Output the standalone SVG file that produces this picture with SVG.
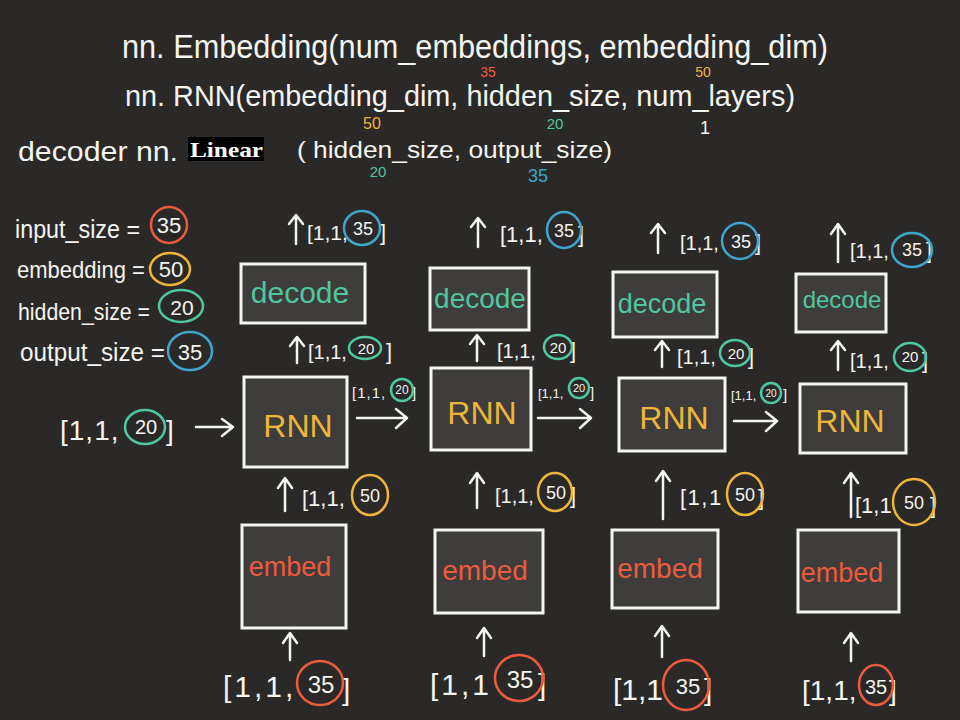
<svg xmlns="http://www.w3.org/2000/svg" width="960" height="720" viewBox="0 0 960 720">
<style>
.hw{font-family:"Liberation Sans",Arial,sans-serif;}
.w{fill:#f4f4f0}.r{fill:#ec5b3e}.y{fill:#eeb53b}.g{fill:#4fc7a0}.b{fill:#3fa6c9}
.box{fill:#3f3d3b;stroke:#f4f4f0;stroke-width:3}
.ring{fill:none;stroke-width:2.5}
.rr{stroke:#ec5b3e}.ry{stroke:#eeb53b}.rg{stroke:#4fc7a0}.rb{stroke:#3fa6c9}
.arr{fill:none;stroke:#f4f4f0;stroke-width:2.5;stroke-linecap:round;stroke-linejoin:round}
.lab{font-family:"Liberation Sans",Arial,sans-serif;fill:#f4f4f0}
.num{text-anchor:middle}
.nt{font-family:"Liberation Sans",Arial,sans-serif;text-anchor:middle}
</style>
<rect width="960" height="720" fill="#2b2927"/>

<g id="header">
<text class="hw w" x="122" y="58" font-size="34" textLength="706" lengthAdjust="spacingAndGlyphs">nn. Embedding(num_embeddings, embedding_dim)</text>
<text class="nt r" x="488" y="77" font-size="14">35</text>
<text class="nt y" x="703" y="77" font-size="14">50</text>
<text class="hw w" x="125" y="106" font-size="29" textLength="670" lengthAdjust="spacingAndGlyphs">nn. RNN(embedding_dim, hidden_size, num_layers)</text>
<text class="nt y" x="372" y="129" font-size="16">50</text>
<text class="nt g" x="555" y="129" font-size="15">20</text>
<text class="nt w" x="705" y="134" font-size="18">1</text>
<text class="hw w" x="18" y="161" font-size="28" textLength="160" lengthAdjust="spacingAndGlyphs">decoder nn.</text>
<rect x="188" y="137" width="76" height="24" fill="#000"/>
<text x="190" y="157" font-family="'Liberation Serif','Times New Roman',serif" font-weight="bold" font-size="22" fill="#ffffff" textLength="73" lengthAdjust="spacingAndGlyphs">Linear</text>
<text class="hw w" x="297" y="158" font-size="24" textLength="315" lengthAdjust="spacingAndGlyphs">( hidden_size, output_size)</text>
<text class="nt g" x="378" y="177" font-size="15">20</text>
<text class="nt b" x="538" y="182" font-size="18">35</text>
</g>

<g id="legend">
<text class="hw w" x="15" y="238" font-size="25" textLength="125" lengthAdjust="spacingAndGlyphs">input_size =</text>
<text class="nt w" x="169" y="233" font-size="22">35</text>
<ellipse class="ring rr" cx="169" cy="225" rx="18" ry="18"/>
<text class="hw w" x="17" y="278" font-size="24" textLength="128" lengthAdjust="spacingAndGlyphs">embedding =</text>
<text class="nt w" x="171" y="277" font-size="22">50</text>
<ellipse class="ring ry" cx="170" cy="269" rx="20" ry="16"/>
<text class="hw w" x="18" y="320" font-size="24" textLength="132" lengthAdjust="spacingAndGlyphs">hidden_size =</text>
<text class="nt w" x="182" y="315" font-size="21">20</text>
<ellipse class="ring rg" cx="181" cy="306" rx="22" ry="16"/>
<text class="hw w" x="20" y="361" font-size="25" textLength="145" lengthAdjust="spacingAndGlyphs">output_size =</text>
<text class="nt w" x="190" y="360" font-size="22">35</text>
<ellipse class="ring rb" cx="190" cy="351" rx="22" ry="19"/>
</g>

<g id="decode1"><rect class="box" x="241" y="264" width="124" height="59"/><text class="nt g" x="300" y="303" font-size="30">decode</text></g>
<g id="decode2"><rect class="box" x="430" y="268" width="99" height="62"/><text class="nt g" x="480" y="308" font-size="28">decode</text></g>
<g id="decode3"><rect class="box" x="613" y="272" width="104" height="65"/><text class="nt g" x="662" y="313" font-size="27">decode</text></g>
<g id="decode4"><rect class="box" x="796" y="274" width="90" height="58"/><text class="nt g" x="842" y="308" font-size="24">decode</text></g>

<g id="rnn1"><rect class="box" x="244" y="377" width="103" height="90"/><text class="nt y" x="298" y="437" font-size="32">RNN</text></g>
<g id="rnn2"><rect class="box" x="431" y="368" width="100" height="82"/><text class="nt y" x="482" y="424" font-size="32">RNN</text></g>
<g id="rnn3"><rect class="box" x="619" y="378" width="106" height="73"/><text class="nt y" x="674" y="429" font-size="32">RNN</text></g>
<g id="rnn4"><rect class="box" x="800" y="384" width="106" height="69"/><text class="nt y" x="850" y="432" font-size="32">RNN</text></g>

<g id="embed1"><rect class="box" x="242" y="525" width="104" height="103"/><text class="nt r" x="290" y="576" font-size="27">embed</text></g>
<g id="embed2"><rect class="box" x="435" y="530" width="108" height="83"/><text class="nt r" x="485" y="580" font-size="28">embed</text></g>
<g id="embed3"><rect class="box" x="612" y="530" width="106" height="78"/><text class="nt r" x="660" y="578" font-size="28">embed</text></g>
<g id="embed4"><rect class="box" x="798" y="530" width="101" height="82"/><text class="nt r" x="842" y="582" font-size="27">embed</text></g>

<g id="connectors" class="arr">
<path d="M296 244V216M289 224L296 215L303 224"/>
<path d="M478 247V219M471 227L478 218L485 227"/>
<path d="M658 253V225M651 233L658 224L665 233"/>
<path d="M838 262V225M831 234L838 224L845 234"/>
<path d="M297 363V338M290 346L297 337L304 346"/>
<path d="M477 361V336M470 344L477 335L484 344"/>
<path d="M662 367V342M655 350L662 341L669 350"/>
<path d="M838 370V342M831 350L838 341L845 350"/>
<path d="M285 511V479M278 488L285 478L292 488"/>
<path d="M477 508V474M470 483L477 473L484 483"/>
<path d="M663 519V472M656 481L663 471L670 481"/>
<path d="M851 517V474M844 483L851 473L858 483"/>
<path d="M290 660V634M283 643L290 633L297 643"/>
<path d="M484 656V629M477 638L484 628L491 638"/>
<path d="M662 657V627M655 636L662 626L669 636"/>
<path d="M851 661V634M844 643L851 633L858 643"/>
<path d="M196 427H233M222 419L233 427L222 436"/>
<path d="M357 418H407M396 409L407 418L396 428"/>
<path d="M538 418H591M580 409L591 418L580 428"/>
<path d="M734 421H777M766 412L777 421L766 431"/>
</g>

<g id="labels">
<text class="lab" font-size="21"><tspan x="307" y="240">[1,1,</tspan><tspan class="num" x="363" y="235" font-size="18">35</tspan><tspan x="380" y="240" font-size="22">]</tspan></text>
<ellipse class="ring rb" cx="362" cy="228" rx="18" ry="17"/>
<text class="lab" font-size="22"><tspan x="500" y="242">[1,1,</tspan><tspan class="num" x="564" y="237" font-size="18">35</tspan><tspan x="578" y="242">]</tspan></text>
<ellipse class="ring rb" cx="564" cy="230" rx="17" ry="18"/>
<text class="lab" font-size="20"><tspan x="680" y="250">[1,1,</tspan><tspan class="num" x="741" y="248" font-size="18">35</tspan><tspan x="755" y="250" font-size="22">]</tspan></text>
<ellipse class="ring rb" cx="740" cy="241" rx="18" ry="18"/>
<text class="lab" font-size="20"><tspan x="850" y="258">[1,1,</tspan><tspan class="num" x="912" y="256" font-size="18">35</tspan><tspan x="926" y="258" font-size="22">]</tspan></text>
<ellipse class="ring rb" cx="912" cy="250" rx="20" ry="17"/>

<text class="lab" font-size="20"><tspan x="308" y="359">[1,1,</tspan><tspan class="num" x="366" y="354" font-size="15">20</tspan><tspan x="386" y="359" font-size="22">]</tspan></text>
<ellipse class="ring rg" cx="365" cy="348" rx="16" ry="11"/>
<text class="lab" font-size="20"><tspan x="497" y="358">[1,1,</tspan><tspan class="num" x="558" y="353" font-size="15">20</tspan><tspan x="570" y="358" font-size="22">]</tspan></text>
<ellipse class="ring rg" cx="558" cy="347" rx="14" ry="12"/>
<text class="lab" font-size="20"><tspan x="677" y="364">[1,1,</tspan><tspan class="num" x="736" y="359" font-size="15">20</tspan><tspan x="748" y="364" font-size="22">]</tspan></text>
<ellipse class="ring rg" cx="735" cy="353" rx="15" ry="13"/>
<text class="lab" font-size="20"><tspan x="850" y="368">[1,1,</tspan><tspan class="num" x="910" y="362" font-size="15">20</tspan><tspan x="922" y="368" font-size="22">]</tspan></text>
<ellipse class="ring rg" cx="910" cy="357" rx="16" ry="14"/>

<text class="lab" font-size="28"><tspan x="60" y="440" letter-spacing="1">[1,1,</tspan><tspan class="num" x="146" y="434" font-size="20">20</tspan><tspan x="166" y="440">]</tspan></text>
<ellipse class="ring rg" cx="145" cy="427" rx="20" ry="17"/>
<text class="lab" font-size="15"><tspan x="352" y="398" letter-spacing="1">[1,1,</tspan><tspan class="num" x="402" y="394" font-size="12">20</tspan><tspan x="412" y="398">]</tspan></text>
<ellipse class="ring rg" cx="402" cy="390" rx="11" ry="11"/>
<text class="lab" font-size="13"><tspan x="538" y="398">[1,1,</tspan><tspan class="num" x="579" y="392" font-size="11">20</tspan><tspan x="590" y="398" font-size="15">]</tspan></text>
<ellipse class="ring rg" cx="579" cy="388" rx="10" ry="10"/>
<text class="lab" font-size="13"><tspan x="731" y="400">[1,1,</tspan><tspan class="num" x="771" y="397" font-size="10">20</tspan><tspan x="783" y="400" font-size="15">]</tspan></text>
<ellipse class="ring rg" cx="771" cy="393" rx="10" ry="10"/>

<text class="lab" font-size="22"><tspan x="302" y="506">[1,1,</tspan><tspan class="num" x="370" y="502" font-size="18">50</tspan></text>
<ellipse class="ring ry" cx="370" cy="495" rx="18" ry="20"/>
<text class="lab" font-size="20"><tspan x="495" y="503">[1,1,</tspan><tspan class="num" x="556" y="499" font-size="18">50</tspan><tspan x="570" y="503" font-size="22">]</tspan></text>
<ellipse class="ring ry" cx="555" cy="492" rx="17" ry="19"/>
<text class="lab" font-size="22"><tspan x="680" y="505" letter-spacing="1.5">[1,1</tspan><tspan class="num" x="745" y="501" font-size="18">50</tspan><tspan x="758" y="505">]</tspan></text>
<ellipse class="ring ry" cx="745" cy="494" rx="18" ry="21"/>
<text class="lab" font-size="22"><tspan x="855" y="513">[1,1</tspan><tspan class="num" x="914" y="509" font-size="18">50</tspan><tspan x="930" y="513">]</tspan></text>
<ellipse class="ring ry" cx="914" cy="502" rx="21" ry="23"/>

<text class="lab" font-size="30"><tspan x="223" y="697" letter-spacing="3">[1,1,</tspan><tspan class="num" x="321" y="693" font-size="24">35</tspan><tspan x="342" y="700">]</tspan></text>
<ellipse class="ring rr" cx="320" cy="683" rx="23" ry="22"/>
<text class="lab" font-size="30"><tspan x="430" y="695" letter-spacing="3">[1,1</tspan><tspan class="num" x="520" y="688" font-size="24">35</tspan><tspan x="538" y="695">]</tspan></text>
<ellipse class="ring rr" cx="519" cy="678" rx="24" ry="23"/>
<text class="lab" font-size="30"><tspan x="613" y="700">[1,1</tspan><tspan class="num" x="688" y="694" font-size="22">35</tspan><tspan x="704" y="700">]</tspan></text>
<ellipse class="ring rr" cx="686" cy="685" rx="23" ry="25"/>
<text class="lab" font-size="28"><tspan x="802" y="700">[1,1,</tspan><tspan class="num" x="876" y="694" font-size="20">35</tspan><tspan x="889" y="700">]</tspan></text>
<ellipse class="ring rr" cx="876" cy="685" rx="17" ry="20"/>
</g>
</svg>
